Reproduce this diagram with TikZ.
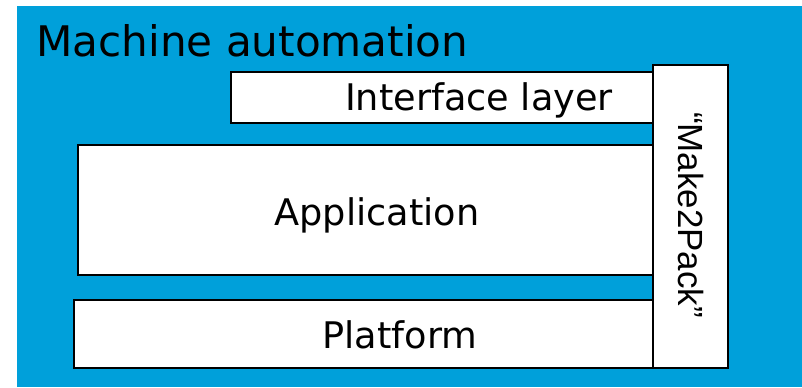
\documentclass[tikz,border=0pt]{standalone}
\usepackage{fontspec}
\setmainfont{DejaVu Sans}
\newfontfamily\arialfont{Liberation Sans}
\usetikzlibrary{positioning}
\definecolor{bgblue}{RGB}{0,160,218}
\tikzset{layerbox/.style={draw=black, fill=white, line width=1.2pt, anchor=north west, inner sep=0pt},
         layertext/.style={anchor=base, inner sep=0pt, font=\fontsize{27.5}{33}\selectfont}}

\begin{document}
\begin{tikzpicture}[x=0.75pt,y=-0.75pt]
      \useasboundingbox (0,0) rectangle (802,387);
      % Latar biru
      \fill[bgblue] (17,6) rectangle (802,387);
      \node[anchor=base west, inner sep=0pt, font=\fontsize{31.6}{38}\selectfont] (title) at (36,56) {Machine automation};

      % Lapisan
      \node[layerbox, minimum width=422*0.75pt, minimum height=51*0.75pt] (iface) at (230,71) {};
      \node[layerbox, minimum width=575*0.75pt, minimum height=130*0.75pt] (app) at (77,144) {};
      \node[layerbox, minimum width=579*0.75pt, minimum height=68*0.75pt] (plat) at (73,299) {};
      \node[layerbox, minimum width=75*0.75pt, minimum height=303*0.75pt] (m2p) at (652,64) {};

      % Teks
      \node[layertext] (ifacetxt) at (479,110) {Interface layer};
      \node[layertext] (apptxt) at (377,225) {Application};
      \node[layertext] (plattxt) at (400,348) {Platform};
      \node[layertext, rotate=-90, font=\arialfont\fontsize{26.2}{31}\selectfont] (m2ptxt) at (678,215) {“Make2Pack”};
\end{tikzpicture}
\end{document}
